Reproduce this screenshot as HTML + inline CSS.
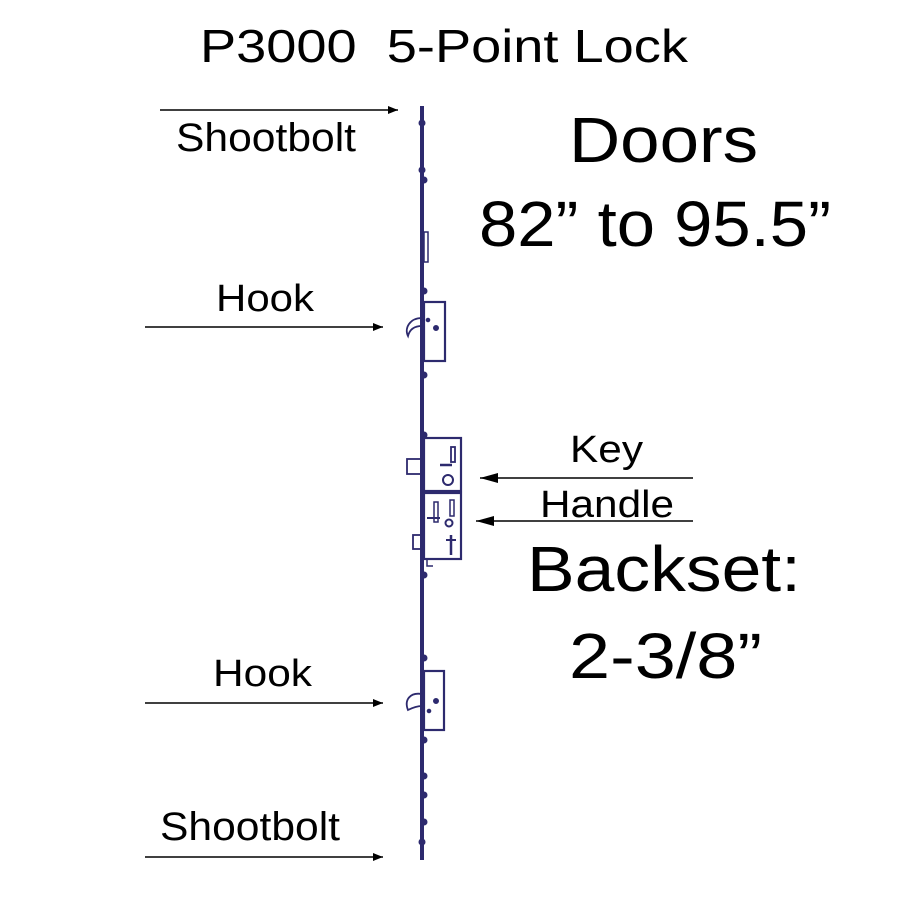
<!DOCTYPE html>
<html><head><meta charset="utf-8"><style>html,body{margin:0;padding:0;background:#fff}svg{display:block}</style></head>
<body>
<svg width="900" height="900" viewBox="0 0 900 900" xmlns="http://www.w3.org/2000/svg" font-family="Liberation Sans, Arial, sans-serif">
<defs>
<marker id="ah" markerWidth="10" markerHeight="8" refX="10" refY="4" orient="auto" markerUnits="userSpaceOnUse"><path d="M0,0 L10,4 L0,8 Z" fill="#000"/></marker>
<marker id="ah2" markerWidth="18" markerHeight="10" refX="18" refY="5" orient="auto" markerUnits="userSpaceOnUse"><path d="M0,0 L18,5 L0,10 Z" fill="#000"/></marker>
</defs>
<text x="200" y="62" font-size="46" xml:space="preserve" textLength="488" lengthAdjust="spacingAndGlyphs">P3000  5-Point Lock</text>
<text x="176" y="151" font-size="40" textLength="180" lengthAdjust="spacingAndGlyphs">Shootbolt</text>
<text x="216" y="311" font-size="38" textLength="98" lengthAdjust="spacingAndGlyphs">Hook</text>
<text x="570" y="462" font-size="38" textLength="73" lengthAdjust="spacingAndGlyphs">Key</text>
<text x="540" y="517" font-size="38" textLength="134" lengthAdjust="spacingAndGlyphs">Handle</text>
<text x="213" y="686" font-size="38" textLength="99" lengthAdjust="spacingAndGlyphs">Hook</text>
<text x="160" y="840" font-size="40" textLength="180" lengthAdjust="spacingAndGlyphs">Shootbolt</text>
<text x="569" y="162" font-size="64" textLength="189" lengthAdjust="spacingAndGlyphs">Doors</text>
<text x="479" y="246" font-size="64" textLength="352" lengthAdjust="spacingAndGlyphs">82” to 95.5”</text>
<text x="527" y="591" font-size="64" textLength="274" lengthAdjust="spacingAndGlyphs">Backset:</text>
<text x="569" y="678" font-size="64" textLength="193" lengthAdjust="spacingAndGlyphs">2-3/8”</text>
<g stroke="#000" stroke-width="1.6">
<line x1="160" y1="110" x2="398" y2="110" marker-end="url(#ah)"/>
<line x1="145" y1="327" x2="383" y2="327" marker-end="url(#ah)"/>
<line x1="693" y1="478" x2="480" y2="478" marker-end="url(#ah2)"/>
<line x1="693" y1="521" x2="476" y2="521" marker-end="url(#ah2)"/>
<line x1="145" y1="703" x2="383" y2="703" marker-end="url(#ah)"/>
<line x1="145" y1="857" x2="383" y2="857" marker-end="url(#ah)"/>
</g>
<g stroke="#2d2a6e" fill="none">
<line x1="422" y1="106" x2="422" y2="860" stroke-width="4"/>
<g fill="#2d2a6e" stroke="none">
<circle cx="422" cy="123" r="3.5"/><circle cx="422" cy="170" r="3.5"/><circle cx="424" cy="180" r="3.5"/>
<circle cx="424" cy="291" r="3.5"/><circle cx="424" cy="375" r="3.5"/><circle cx="424" cy="435" r="3.5"/>
<circle cx="424" cy="575" r="3.5"/><circle cx="424" cy="658" r="3.5"/><circle cx="424" cy="740" r="3.5"/>
<circle cx="424" cy="776" r="3.5"/><circle cx="424" cy="795" r="3.5"/><circle cx="424" cy="822" r="3.5"/><circle cx="422" cy="842" r="3.5"/>
</g>
<rect x="424" y="232" width="4" height="30" stroke-width="1.5"/>
<rect x="424" y="302" width="21" height="59" stroke-width="2.2"/>
<path d="M422,318 C410,318 404,328 408,336 C410,328 416,326 422,326" stroke-width="1.8"/>
<circle cx="436" cy="328" r="2.5" fill="#2d2a6e"/><circle cx="428" cy="320" r="1.8" fill="#2d2a6e"/>
<rect x="424" y="438" width="37" height="53" stroke-width="2.2"/>
<rect x="407" y="459" width="15" height="15" stroke-width="1.8"/>
<circle cx="448" cy="480" r="5" stroke-width="2"/>
<line x1="440" y1="465" x2="452" y2="465" stroke-width="2.5"/>
<rect x="451" y="447" width="4" height="15" stroke-width="1.8"/>
<rect x="424" y="493" width="37" height="66" stroke-width="2.2"/>
<rect x="413" y="535" width="9" height="14" stroke-width="1.8"/>
<circle cx="449" cy="523" r="3.5" stroke-width="2"/>
<rect x="434" y="502" width="4" height="20" stroke-width="1.5"/>
<rect x="450" y="500" width="4" height="16" stroke-width="1.5"/>
<line x1="427" y1="518" x2="440" y2="518" stroke-width="2"/>
<line x1="446" y1="540" x2="456" y2="540" stroke-width="2"/>
<line x1="451" y1="535" x2="451" y2="555" stroke-width="2.5"/>
<path d="M427,560 L427,566 L433,566" stroke-width="1.5"/>
<rect x="424" y="671" width="20" height="59" stroke-width="2.2"/>
<path d="M422,694 C410,692 404,700 408,710 C412,708 418,706 422,706" stroke-width="1.8"/>
<circle cx="436" cy="701" r="2.5" fill="#2d2a6e"/><circle cx="429" cy="711" r="1.8" fill="#2d2a6e"/>
</g>
</svg>
</body></html>
